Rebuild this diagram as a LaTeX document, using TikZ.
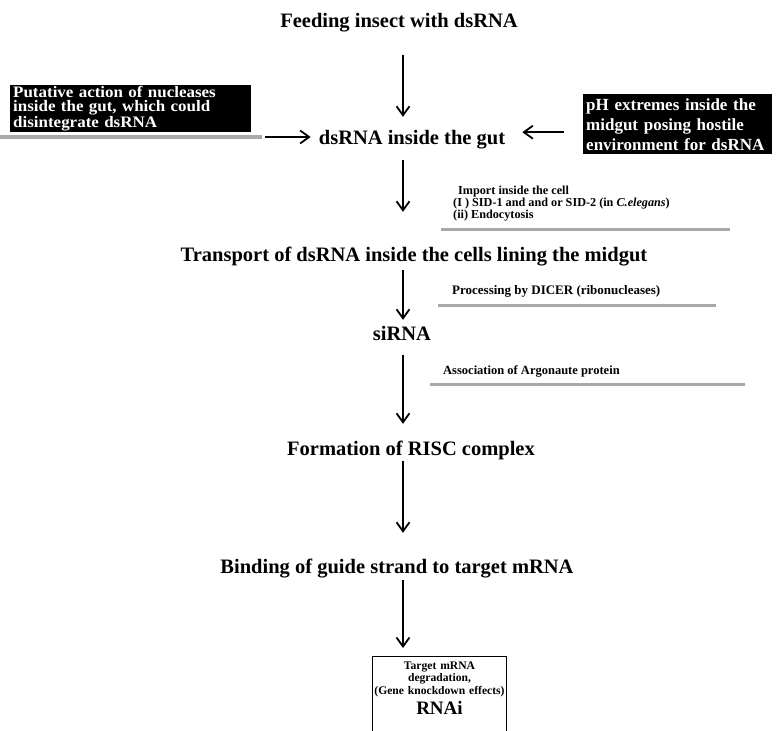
\documentclass[tikz,border=0pt]{standalone}
\usepackage{fontspec}
\setmainfont{Liberation Serif}
\newfontfamily\widefont{Liberation Serif}[FakeStretch=1.06]
\usetikzlibrary{arrows.meta, calc}
\definecolor{bargrey}{RGB}{168, 168, 168}
\tikzset{
  note/.style={anchor=west, align=left, inner sep=0pt},
  flow/.style={-{Straight Barb[length=9pt, width=13pt]}, line width=1.8pt},
  greybar/.style={draw=bargrey, line width=3.5pt}
}

\begin{document}
\begin{tikzpicture}[
    x=1pt, y=-1pt,
    stage/.style={
        anchor=base, inner sep=0pt, text height=14pt, text depth=4pt,
        font=\fontsize{20.5}{24}\selectfont\bfseries
      },
    blackbox/.style={
        fill=black, text=white, align=left, anchor=north west, inner sep=3pt,
        font=\fontsize{17}{15.5}\selectfont\bfseries
      }
  ]

  \useasboundingbox (0,0) rectangle (777,731);
  \clip (0,0) rectangle (777,731);

  \coordinate (axis) at (403,0);

  \node[stage] (feed) at (399,27) {Feeding insect with dsRNA};
  \node[stage] (gut) at (412,144) {dsRNA inside the gut};
  \node[stage] (cells) at (414,261) {Transport of dsRNA inside the cells lining the midgut};
  \node[stage] (sirna) at (402,340) {siRNA};
  \node[stage] (risc) at (411,455) {Formation of RISC complex};
  \node[stage] (bind) at (397,573) {Binding of guide strand to target mRNA};

  \node[draw, line width=1pt, anchor=north west, minimum width=134, text width=134,
    align=center, inner xsep=0pt, inner ysep=5pt, font=\fontsize{11.6}{12.5}\selectfont\bfseries]
  (rnai) at (372,656)
  {Target mRNA\\degradation,\\\mbox{(Gene knockdown effects)}\\[4pt]
    {\fontsize{19}{19}\selectfont RNAi}\\\rule{0pt}{30pt}};

  % side conditions in the gut
  \node[blackbox, minimum width=241, minimum height=46, text width=235, inner ysep=1pt,
    font=\fontsize{16}{14.5}\widefont\bfseries] (nucl) at (10,85)
  {Putative action of nucleases\\inside the gut, which could\\disintegrate dsRNA};
  \node[fill=bargrey, minimum width=262, minimum height=4, inner sep=0pt] (nuclbar) at (131,137) {};

  \node[blackbox, minimum width=189, minimum height=60, text width=183,
    font=\fontsize{17}{20}\selectfont\bfseries] (ph) at (583,94)
  {pH extremes inside the\\midgut posing hostile\\environment for dsRNA};

  \draw[flow, shorten <=3pt, shorten >=8pt] (nuclbar.east) -- (nuclbar.east -| gut.west);
  \draw[flow, shorten <=19pt, shorten >=17pt] ([yshift=-8pt]ph.west) -- ([yshift=-8pt]ph.west -| gut.east);

  % main pathway
  \draw[flow, shorten <=24pt, shorten >=13pt] (feed.south -| axis) -- (gut.north -| axis);
  \draw[flow, shorten <=12pt, shorten >=35pt] (gut.south -| axis) -- (cells.north -| axis);
  \draw[flow, shorten <=5pt, shorten >=6pt] (cells.south -| axis) -- (sirna.north -| axis);
  \draw[flow, shorten <=11pt, shorten >=17pt] (sirna.south -| axis) -- (risc.north -| axis);
  \draw[flow, shorten <=2pt, shorten >=26pt] (risc.south -| axis) -- (bind.north -| axis);
  \draw[flow, shorten <=3pt, shorten >=8pt] (bind.south -| axis) -- (rnai.north -| axis);

  % step notes
  \node[note, font=\fontsize{12.2}{11}\selectfont\bfseries] (import) at (453,204)
  {\hspace*{5pt}Import inside the cell\\(I ) SID-1 and and or SID-2 (in \textit{C.elegans})\\(ii) Endocytosis};
  \draw[greybar] (441,229.5) -- (730,229.5);

  \node[note, font=\fontsize{13}{15}\selectfont\bfseries] (dicer) at (452,291)
  {Processing by DICER (ribonucleases)};
  \draw[greybar] (438,305.5) -- (716,305.5);

  \node[note, font=\fontsize{12.5}{15}\selectfont\bfseries] (ago) at (443,371)
  {Association of Argonaute protein};
  \draw[greybar] (430,384.5) -- (745,384.5);

\end{tikzpicture}
\end{document}
